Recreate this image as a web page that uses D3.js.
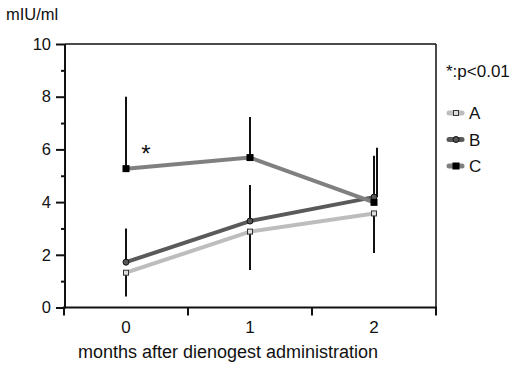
<!DOCTYPE html>
<html>
<head>
<meta charset="utf-8">
<script src="https://cdn.jsdelivr.net/npm/d3@7"></script>
<style>
  body { margin: 0; background: #fff; }
  text { font-family: "Liberation Sans", Arial, sans-serif; fill: #111; }
</style>
</head>
<body>
<div id="chart"></div>
<script>
// data
var months = ["0", "1", "2"];
var seriesNames = ["A", "B", "C"];
var meanA = [1.32, 2.88, 3.57];
var meanB = [1.72, 3.28, 4.19];
var meanC = [5.27, 5.69, 3.99];
var errA = [0.9, 1.46, 1.5];   // drawn downward
var errB = [1.28, 1.37, 1.87]; // drawn upward
var errC = [2.73, 1.54, 1.77]; // drawn upward
var yTicks = [0, 2, 4, 6, 8, 10];
var yMinorTicks = [1, 3, 5, 7, 9];

var width = 519, height = 366;
var margin = { top: 44, left: 65, right: 83, bottom: 58 };

var series = [
  { name: "A", mean: meanA, err: errA, dir: -1, line: "#bdbdbd", marker: "square-open", dx: [0, 0, 0] },
  { name: "B", mean: meanB, err: errB, dir: 1, line: "#5a5a5a", marker: "circle", dx: [0, 0, 3] },
  { name: "C", mean: meanC, err: errC, dir: 1, line: "#808080", marker: "square", dx: [0, 0, 0] }
];

var svg = d3.select("#chart").append("svg")
  .attr("width", width)
  .attr("height", height);

var x = d3.scaleBand()
  .domain(months)
  .range([margin.left - 1, width - margin.right]);

var y = d3.scaleLinear()
  .domain([0, 10])
  .range([height - margin.bottom - 0.5, margin.top]);

var cx = function (i) { return x(months[i]) + x.bandwidth() / 2; };

// frame: top and right border
svg.append("line")
  .attr("x1", margin.left).attr("x2", width - margin.right)
  .attr("y1", y(10)).attr("y2", y(10))
  .attr("stroke", "#111").attr("stroke-width", 1.5);
svg.append("line")
  .attr("x1", width - margin.right).attr("x2", width - margin.right)
  .attr("y1", y(10)).attr("y2", y(0))
  .attr("stroke", "#111").attr("stroke-width", 1.5);

// y axis
var yAxis = svg.append("g")
  .attr("transform", "translate(" + margin.left + ",0)")
  .call(d3.axisLeft(y).tickValues(yTicks).tickSize(9).tickPadding(5).tickFormat(d3.format("d")));
svg.append("g")
  .attr("transform", "translate(" + margin.left + ",0)")
  .call(d3.axisLeft(y).tickValues(yMinorTicks).tickSize(4).tickFormat(""))
  .select(".domain").remove();

// x axis, ticks at band edges
var xAxis = svg.append("g")
  .attr("transform", "translate(0," + y(0) + ")")
  .call(d3.axisBottom(x).tickSize(0).tickPadding(13));
xAxis.selectAll("g.tick").select("line").remove();
var edges = months.map(function (m) { return x(m); }).concat([x(months[months.length - 1]) + x.bandwidth()]);
xAxis.selectAll("line.edge")
  .data(edges)
  .enter().append("line")
  .attr("class", "edge")
  .attr("x1", function (d) { return d; }).attr("x2", function (d) { return d; })
  .attr("y1", 0).attr("y2", 8);

[yAxis, xAxis].forEach(function (a) {
  a.select(".domain").attr("stroke", "#111").attr("stroke-width", 2);
  a.selectAll("text").style("font-size", "16.5px").style("fill", "#111");
});
xAxis.selectAll("text").style("font-size", "17px");
xAxis.select(".domain").attr("d", "M" + (margin.left - 2) + ",0H" + (width - margin.right + 1));
yAxis.select(".domain").attr("d", "M0," + (y(0) + 1) + "V" + y(10));
svg.selectAll("g").selectAll("line").attr("stroke", "#111").attr("stroke-width", 2);

// axis titles
svg.append("text")
  .attr("x", 6).attr("y", 20)
  .style("font-size", "16.5px")
  .text("mIU/ml");
svg.append("text")
  .attr("x", 228).attr("y", 358)
  .attr("text-anchor", "middle")
  .style("font-size", "18px")
  .text("months after dienogest administration");

// error bars
series.forEach(function (s) {
  svg.append("g").selectAll("line")
    .data(s.mean)
    .enter().append("line")
    .attr("x1", function (d, i) { return cx(i) + s.dx[i]; })
    .attr("x2", function (d, i) { return cx(i) + s.dx[i]; })
    .attr("y1", function (d) { return y(d); })
    .attr("y2", function (d, i) { return y(d + s.dir * s.err[i]); })
    .attr("stroke", "#111")
    .attr("stroke-width", 2);
});

// lines
var line = d3.line()
  .x(function (d, i) { return cx(i); })
  .y(function (d) { return y(d); });

series.forEach(function (s) {
  svg.append("path")
    .datum(s.mean)
    .attr("d", line)
    .attr("fill", "none")
    .attr("stroke", s.line)
    .attr("stroke-width", 4);
});

function drawMarker(g, type, px, py) {
  if (type === "circle") {
    g.append("circle").attr("cx", px).attr("cy", py).attr("r", 3)
      .attr("fill", "#555").attr("stroke", "#111").attr("stroke-width", 1);
  } else if (type === "square") {
    g.append("rect").attr("x", px - 3.5).attr("y", py - 3.5).attr("width", 7).attr("height", 7)
      .attr("fill", "#000");
  } else {
    g.append("rect").attr("x", px - 2.5).attr("y", py - 2.5).attr("width", 5).attr("height", 5)
      .attr("fill", "#ddd").attr("stroke", "#333").attr("stroke-width", 1);
  }
}

series.forEach(function (s) {
  var g = svg.append("g");
  s.mean.forEach(function (d, i) { drawMarker(g, s.marker, cx(i), y(d)); });
});

// significance mark
svg.append("text")
  .attr("x", cx(0) + 20).attr("y", y(meanC[0]) - 7)
  .attr("text-anchor", "middle")
  .style("font-size", "24px")
  .text("*");

// legend
var lx = width - margin.right + 10;
svg.append("text")
  .attr("x", lx).attr("y", 77)
  .style("font-size", "17px")
  .text("*:p<0.01");

var legend = svg.append("g");
series.forEach(function (s, i) {
  var ly = 113 + i * 26.5;
  legend.append("line")
    .attr("x1", lx + 3).attr("x2", lx + 16)
    .attr("y1", ly).attr("y2", ly)
    .attr("stroke", s.line).attr("stroke-width", 5).attr("stroke-linecap", "round");
  drawMarker(legend, s.marker, lx + 10, ly);
  legend.append("text")
    .attr("x", lx + 23).attr("y", ly + 6)
    .style("font-size", "17px")
    .text(seriesNames[i]);
});
</script>
</body>
</html>
